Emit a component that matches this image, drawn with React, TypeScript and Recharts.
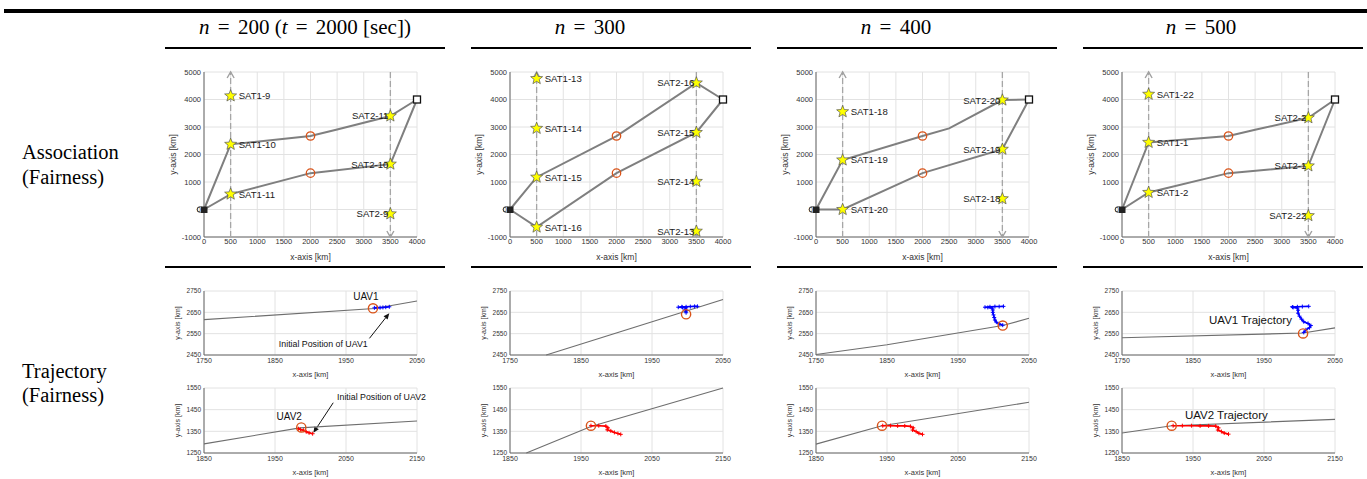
import React from 'react';
import { ScatterChart, Scatter, XAxis, YAxis, CartesianGrid, ReferenceLine } from 'recharts';

const FONT = "'Liberation Sans', Arial, Helvetica, sans-serif";
const SERIF = "'Liberation Serif', 'Times New Roman', serif";

// ---------- header / labels ----------
const nValues = [200, 300, 400, 500];
const firstTime = 2000;
const rowLabels = [['Association', '(Fairness)'], ['Trajectory', '(Fairness)']];

// ---------- ticks ----------
const assocXTicks = [0, 500, 1000, 1500, 2000, 2500, 3000, 3500, 4000];
const assocYTicks = [-1000, 0, 1000, 2000, 3000, 4000, 5000];
const traj1XTicks = [1750, 1850, 1950, 2050];
const traj1YTicks = [2450, 2550, 2650, 2750];
const traj2XTicks = [1850, 1950, 2050, 2150];
const traj2YTicks = [1250, 1350, 1450, 1550];

// ---------- association common ----------
const startPoint = [{ x: 0, y: 0 }];
const destPoint = [{ x: 4000, y: 4000 }];
const midPoints = [{ x: 2000, y: 2672 }, { x: 2000, y: 1322 }];
const dashLeft = [{ x: 500, y: -1000 }, { x: 500, y: 5000 }];
const dashRight = [{ x: 3500, y: 5000 }, { x: 3500, y: -1000 }];
const arrowUpTip = [{ x: 500, y: 5000 }];
const arrowDownTip = [{ x: 3500, y: -1000 }];

// ---------- association per column ----------
const sat1Col1 = [{ x: 500, y: 4130, name: 'SAT1-9' }, { x: 500, y: 2370, name: 'SAT1-10' }, { x: 500, y: 560, name: 'SAT1-11' }];
const sat2Col1 = [{ x: 3500, y: 3400, name: 'SAT2-11' }, { x: 3500, y: 1650, name: 'SAT2-10' }, { x: 3500, y: -160, name: 'SAT2-9' }];
const upperCol1 = [{ x: 0, y: 0 }, { x: 500, y: 2370 }, { x: 2000, y: 2672 }, { x: 2500, y: 2910 }, { x: 3500, y: 3400 }, { x: 4000, y: 4000 }];
const lowerCol1 = [{ x: 0, y: 0 }, { x: 500, y: 560 }, { x: 2000, y: 1322 }, { x: 3500, y: 1650 }, { x: 4000, y: 4000 }];

const sat1Col2 = [{ x: 500, y: 4760, name: 'SAT1-13' }, { x: 500, y: 2950, name: 'SAT1-14' }, { x: 500, y: 1175, name: 'SAT1-15' }, { x: 500, y: -640, name: 'SAT1-16' }];
const sat2Col2 = [{ x: 3500, y: 4600, name: 'SAT2-16' }, { x: 3500, y: 2800, name: 'SAT2-15' }, { x: 3500, y: 1020, name: 'SAT2-14' }, { x: 3500, y: -790, name: 'SAT2-13' }];
const upperCol2 = [{ x: 0, y: 0 }, { x: 500, y: 1175 }, { x: 2000, y: 2672 }, { x: 3500, y: 4600 }, { x: 4000, y: 4000 }];
const lowerCol2 = [{ x: 0, y: 0 }, { x: 500, y: -640 }, { x: 2000, y: 1322 }, { x: 3500, y: 2800 }, { x: 4000, y: 4000 }];

const sat1Col3 = [{ x: 500, y: 3555, name: 'SAT1-18' }, { x: 500, y: 1800, name: 'SAT1-19' }, { x: 500, y: 0, name: 'SAT1-20' }];
const sat2Col3 = [{ x: 3500, y: 3980, name: 'SAT2-20' }, { x: 3500, y: 2190, name: 'SAT2-19' }, { x: 3500, y: 390, name: 'SAT2-18' }];
const upperCol3 = [{ x: 0, y: 0 }, { x: 500, y: 1800 }, { x: 2000, y: 2672 }, { x: 2500, y: 2950 }, { x: 3500, y: 3980 }, { x: 4000, y: 4000 }];
const lowerCol3 = [{ x: 0, y: 0 }, { x: 500, y: 0 }, { x: 2000, y: 1322 }, { x: 3500, y: 2190 }, { x: 4000, y: 4000 }];

const sat1Col4 = [{ x: 500, y: 4190, name: 'SAT1-22' }, { x: 500, y: 2440, name: 'SAT1-1' }, { x: 500, y: 620, name: 'SAT1-2' }];
const sat2Col4 = [{ x: 3500, y: 3335, name: 'SAT2-2' }, { x: 3500, y: 1585, name: 'SAT2-1' }, { x: 3500, y: -225, name: 'SAT2-22' }];
const upperCol4 = [{ x: 0, y: 0 }, { x: 500, y: 2440 }, { x: 2000, y: 2672 }, { x: 2500, y: 2900 }, { x: 3500, y: 3335 }, { x: 4000, y: 4000 }];
const lowerCol4 = [{ x: 0, y: 0 }, { x: 500, y: 620 }, { x: 2000, y: 1322 }, { x: 3500, y: 1585 }, { x: 4000, y: 4000 }];

// ---------- trajectory UAV1 (top) ----------
const path1Col1 = [{ x: 1750, y: 2616 }, { x: 1990, y: 2668 }, { x: 2050, y: 2703 }];
const uav1Col1 = [{ x: 1990, y: 2671 }, { x: 1994, y: 2672 }, { x: 1998, y: 2672 }, { x: 2002, y: 2673 }, { x: 2006, y: 2674 }, { x: 2011, y: 2676 }];
const start1Col1 = [{ x: 1988, y: 2669 }];
const text1Col1 = [{ x: 1978, y: 2725, text: 'UAV1' }];
const note1Col1 = [{ x: 1918, y: 2503, text: 'Initial Position of UAV1' }];
const arrow1Col1 = [{ x: 1983, y: 2528 }, { x: 2011, y: 2646 }];

const path1Col2 = [{ x: 1801, y: 2450 }, { x: 2050, y: 2710 }];
const uav1Col2 = [{ x: 1998, y: 2648 }, { x: 1998, y: 2656 }, { x: 1997, y: 2664 }, { x: 1998, y: 2671 }, { x: 1993, y: 2673 }, { x: 1987, y: 2674 }, { x: 1992, y: 2676 }, { x: 1998, y: 2676 }, { x: 2004, y: 2677 }, { x: 2010, y: 2678 }, { x: 2014, y: 2678 }];
const start1Col2 = [{ x: 1998, y: 2641 }];

const path1Col3 = [{ x: 1750, y: 2452 }, { x: 1850, y: 2498 }, { x: 2013, y: 2588 }, { x: 2050, y: 2622 }];
const uav1Col3 = [{ x: 2013, y: 2590 }, { x: 2008, y: 2596 }, { x: 2004, y: 2604 }, { x: 2002, y: 2614 }, { x: 2001, y: 2626 }, { x: 2000, y: 2638 }, { x: 1999, y: 2650 }, { x: 1999, y: 2661 }, { x: 1998, y: 2670 }, { x: 1992, y: 2673 }, { x: 1988, y: 2674 }, { x: 1995, y: 2676 }, { x: 2002, y: 2677 }, { x: 2008, y: 2677 }, { x: 2014, y: 2678 }];
const start1Col3 = [{ x: 2013, y: 2588 }];

const path1Col4 = [{ x: 1750, y: 2531 }, { x: 2005, y: 2553 }, { x: 2050, y: 2577 }];
const uav1Col4 = [{ x: 2006, y: 2556 }, { x: 2009, y: 2568 }, { x: 2014, y: 2578 }, { x: 2016, y: 2588 }, { x: 2012, y: 2598 }, { x: 2006, y: 2606 }, { x: 2003, y: 2618 }, { x: 2000, y: 2632 }, { x: 1998, y: 2646 }, { x: 1998, y: 2660 }, { x: 1997, y: 2670 }, { x: 1991, y: 2673 }, { x: 1990, y: 2675 }, { x: 1997, y: 2676 }, { x: 2004, y: 2677 }, { x: 2013, y: 2678 }];
const start1Col4 = [{ x: 2005, y: 2551 }];
const text1Col4 = [{ x: 1931, y: 2613, text: 'UAV1 Trajectory' }];

// ---------- trajectory UAV2 (bottom) ----------
const path2Col1 = [{ x: 1850, y: 1292 }, { x: 1985, y: 1366 }, { x: 2150, y: 1398 }];
const uav2Col1 = [{ x: 1983, y: 1362 }, { x: 1986, y: 1358 }, { x: 1990, y: 1355 }, { x: 1994, y: 1348 }, { x: 1998, y: 1343 }, { x: 2003, y: 1339 }];
const start2Col1 = [{ x: 1987, y: 1368 }];
const text2Col1 = [{ x: 1970, y: 1419, text: 'UAV2' }];
const note2Col1 = [{ x: 2100, y: 1507, text: 'Initial Position of UAV2' }];
const arrow2Col1 = [{ x: 2032, y: 1482 }, { x: 2004, y: 1343 }];

const path2Col2 = [{ x: 1873, y: 1250 }, { x: 1964, y: 1372 }, { x: 2150, y: 1550 }];
const uav2Col2 = [{ x: 1964, y: 1376 }, { x: 1975, y: 1376 }, { x: 1985, y: 1374 }, { x: 1988, y: 1366 }, { x: 1987, y: 1357 }, { x: 1992, y: 1352 }, { x: 1997, y: 1345 }, { x: 2002, y: 1340 }, { x: 2006, y: 1336 }];
const start2Col2 = [{ x: 1964, y: 1376 }];

const path2Col3 = [{ x: 1850, y: 1291 }, { x: 1943, y: 1376 }, { x: 2150, y: 1484 }];
const uav2Col3 = [{ x: 1944, y: 1376 }, { x: 1955, y: 1376 }, { x: 1965, y: 1375 }, { x: 1975, y: 1375 }, { x: 1983, y: 1373 }, { x: 1987, y: 1366 }, { x: 1986, y: 1356 }, { x: 1991, y: 1349 }, { x: 1995, y: 1341 }, { x: 2000, y: 1336 }];
const start2Col3 = [{ x: 1943, y: 1376 }];

const path2Col4 = [{ x: 1850, y: 1342 }, { x: 1920, y: 1376 }, { x: 2150, y: 1405 }];
const uav2Col4 = [{ x: 1922, y: 1376 }, { x: 1935, y: 1376 }, { x: 1948, y: 1376 }, { x: 1960, y: 1375 }, { x: 1972, y: 1375 }, { x: 1982, y: 1374 }, { x: 1986, y: 1366 }, { x: 1985, y: 1356 }, { x: 1990, y: 1349 }, { x: 1994, y: 1342 }, { x: 2000, y: 1337 }];
const start2Col4 = [{ x: 1920, y: 1376 }];
const text2Col4 = [{ x: 1997, y: 1427, text: 'UAV2 Trajectory' }];

// ---------- layout ----------
const PW = 213;
const colLeft = [204, 510, 816, 1122];
const lineLeft = [165, 471, 777, 1083];
const headerCenter = [305, 590, 896, 1201];
const YW = 45;
const MT = 8;
const MR = 12;
const XH = 40;

const Empty = () => <g />;

function starPoints(cx: number, cy: number, R: number, r: number) {
  const pts: string[] = [];
  for (let i = 0; i < 10; i++) {
    const a = -Math.PI / 2 + (i * Math.PI) / 5;
    const rad = i % 2 === 0 ? R : r;
    pts.push(`${(cx + rad * Math.cos(a)).toFixed(2)},${(cy + rad * Math.sin(a)).toFixed(2)}`);
  }
  return pts.join(' ');
}

const makeStar = (side: 'left' | 'right') => (props: any) => {
  const { cx, cy, payload } = props;
  return (
    <g>
      <polygon points={starPoints(cx, cy, 6.3, 2.7)} fill="#ffff00" stroke="#555" strokeWidth={0.7} />
      <text
        x={side === 'right' ? cx + 8 : cx - 2}
        y={cy}
        dy="0.36em"
        textAnchor={side === 'right' ? 'start' : 'end'}
        fontSize={9.6}
        fontFamily={FONT}
        fill="#1a1a1a"
      >
        {payload.name}
      </text>
    </g>
  );
};
const StarRight = makeStar('right');
const StarLeft = makeStar('left');

const ArrowUp = (p: any) => (
  <polyline points={`${p.cx - 3.5},${p.cy + 6} ${p.cx},${p.cy} ${p.cx + 3.5},${p.cy + 6}`} fill="none" stroke="#a0a0a0" strokeWidth={1.4} />
);
const ArrowDown = (p: any) => (
  <polyline points={`${p.cx - 3.5},${p.cy - 6} ${p.cx},${p.cy} ${p.cx + 3.5},${p.cy - 6}`} fill="none" stroke="#a0a0a0" strokeWidth={1.4} />
);
const OrangeSmall = (p: any) => <circle cx={p.cx} cy={p.cy} r={4.2} fill="none" stroke="#D95319" strokeWidth={1.3} />;
const OrangeBig = (p: any) => <circle cx={p.cx} cy={p.cy} r={4.6} fill="none" stroke="#D95319" strokeWidth={1.4} />;
const OriginMarker = (p: any) => (
  <g>
    <circle cx={p.cx - 4} cy={p.cy} r={2.8} fill="#fff" stroke="#333" strokeWidth={0.9} />
    <rect x={p.cx - 3} y={p.cy - 3} width={6.5} height={6.5} fill="#222" />
  </g>
);
const DestMarker = (p: any) => (
  <rect x={p.cx - 3.5} y={p.cy - 3.5} width={7} height={7} fill="#fff" stroke="#111" strokeWidth={1.3} />
);
const makePlus = (color: string) => (p: any) => (
  <g stroke={color} strokeWidth={1}>
    <line x1={p.cx - 2} y1={p.cy} x2={p.cx + 2} y2={p.cy} />
    <line x1={p.cx} y1={p.cy - 2} x2={p.cx} y2={p.cy + 2} />
  </g>
);
const BluePlus = makePlus('#0000ff');
const RedPlus = makePlus('#ff0000');
const makeText = (size: number) => (p: any) => (
  <text x={p.cx} y={p.cy} dy="0.36em" textAnchor="middle" fontSize={size} fontFamily={FONT} fill="#111">
    {p.payload.text}
  </text>
);
const TextUav = makeText(10);
const TextNote = makeText(8.8);
const TextTraj = makeText(11.5);

const ArrowShape = (p: any) => {
  const { x1, y1, x2, y2 } = p;
  if ([x1, y1, x2, y2].some((v) => typeof v !== 'number' || isNaN(v))) return <g />;
  const ang = Math.atan2(y2 - y1, x2 - x1);
  const L = 6;
  const W = 2.6;
  const bx = x2 - L * Math.cos(ang);
  const by = y2 - L * Math.sin(ang);
  const px = -Math.sin(ang) * W;
  const py = Math.cos(ang) * W;
  return (
    <g>
      <line x1={x1} y1={y1} x2={bx} y2={by} stroke="#111" strokeWidth={1} />
      <polygon points={`${x2},${y2} ${bx + px},${by + py} ${bx - px},${by - py}`} fill="#111" />
    </g>
  );
};

const tickStyle = (size: number) => ({ fontSize: size, fill: '#333', fontFamily: FONT });

function AssocChart(props: { left: number; sat1: any[]; sat2: any[]; upper: any[]; lower: any[] }) {
  const ph = 165;
  const W = YW + PW + MR;
  const H = MT + ph + XH;
  return (
    <div style={{ position: 'absolute', left: props.left - YW, top: 72 - MT, width: W, height: H }}>
      <ScatterChart width={W} height={H} margin={{ top: MT, right: MR, bottom: 0, left: 0 }}>
        <CartesianGrid stroke="#e2e2e2" strokeWidth={1} />
        <XAxis
          type="number" dataKey="x" domain={[0, 4000]} ticks={assocXTicks} interval={0}
          height={XH} tickLine={false} tickSize={2} tickMargin={0}
          axisLine={{ stroke: '#666' }} tick={tickStyle(7.5)}
          label={{ value: 'x-axis [km]', position: 'center', dy: 0, fontSize: 8.5, fill: '#333', fontFamily: FONT }}
        />
        <YAxis
          type="number" dataKey="y" domain={[-1000, 5000]} ticks={assocYTicks} interval={0}
          width={YW} tickLine={false} tickSize={2} tickMargin={1}
          axisLine={{ stroke: '#666' }} tick={tickStyle(7.5)}
          label={{ value: 'y-axis [km]', angle: -90, position: 'center', dx: -8.5, fontSize: 8.5, fill: '#333', fontFamily: FONT }}
        />
        <Scatter data={dashLeft} line={{ stroke: '#a6a6a6', strokeWidth: 1.3, strokeDasharray: '6 3' }} shape={Empty} isAnimationActive={false} />
        <Scatter data={dashRight} line={{ stroke: '#a6a6a6', strokeWidth: 1.3, strokeDasharray: '6 3' }} shape={Empty} isAnimationActive={false} />
        <Scatter data={arrowUpTip} shape={ArrowUp} isAnimationActive={false} />
        <Scatter data={arrowDownTip} shape={ArrowDown} isAnimationActive={false} />
        <Scatter data={props.upper} line={{ stroke: '#7f7f7f', strokeWidth: 2 }} shape={Empty} isAnimationActive={false} />
        <Scatter data={props.lower} line={{ stroke: '#7f7f7f', strokeWidth: 2 }} shape={Empty} isAnimationActive={false} />
        <Scatter data={midPoints} shape={OrangeSmall} isAnimationActive={false} />
        <Scatter data={startPoint} shape={OriginMarker} isAnimationActive={false} />
        <Scatter data={destPoint} shape={DestMarker} isAnimationActive={false} />
        <Scatter data={props.sat1} shape={StarRight} isAnimationActive={false} />
        <Scatter data={props.sat2} shape={StarLeft} isAnimationActive={false} />
      </ScatterChart>
    </div>
  );
}

function TrajChart(props: {
  left: number; top: number; ph: number; xTicks: number[]; yTicks: number[];
  path: any[]; traj: any[]; color: string; marker: any; start: any[];
  texts?: { data: any[]; shape: any }[]; arrow?: any[];
}) {
  const W = YW + PW + MR;
  const H = MT + props.ph + XH;
  const xd = [props.xTicks[0], props.xTicks[props.xTicks.length - 1]];
  const yd = [props.yTicks[0], props.yTicks[props.yTicks.length - 1]];
  return (
    <div style={{ position: 'absolute', left: props.left - YW, top: props.top - MT, width: W, height: H }}>
      <ScatterChart width={W} height={H} margin={{ top: MT, right: MR, bottom: 0, left: 0 }}>
        <CartesianGrid stroke="#e2e2e2" strokeWidth={1} />
        <XAxis
          type="number" dataKey="x" domain={xd} ticks={props.xTicks} interval={0}
          height={XH} tickLine={false} tickSize={2} tickMargin={1}
          axisLine={{ stroke: '#666' }} tick={tickStyle(7)}
          label={{ value: 'x-axis [km]', position: 'center', dy: -1, fontSize: 7.5, fill: '#333', fontFamily: FONT }}
        />
        <YAxis
          type="number" dataKey="y" domain={yd} ticks={props.yTicks} interval={0}
          width={YW} tickLine={false} tickSize={2} tickMargin={1}
          axisLine={{ stroke: '#666' }} tick={tickStyle(6.5)}
          label={{ value: 'y-axis [km]', angle: -90, position: 'center', dx: -3.5, fontSize: 7, fill: '#333', fontFamily: FONT }}
        />
        <Scatter data={props.path} line={{ stroke: '#6e6e6e', strokeWidth: 1.1 }} shape={Empty} isAnimationActive={false} />
        <Scatter data={props.traj} line={{ stroke: props.color, strokeWidth: 1.6 }} shape={props.marker} isAnimationActive={false} />
        <Scatter data={props.start} shape={OrangeBig} isAnimationActive={false} />
        {props.arrow ? (
          <ReferenceLine segment={props.arrow as any} ifOverflow="visible" shape={ArrowShape} />
        ) : null}
        {(props.texts || []).map((t, i) => (
          <Scatter key={i} data={t.data} shape={t.shape} isAnimationActive={false} />
        ))}
      </ScatterChart>
    </div>
  );
}

const assocCols = [
  { sat1: sat1Col1, sat2: sat2Col1, upper: upperCol1, lower: lowerCol1 },
  { sat1: sat1Col2, sat2: sat2Col2, upper: upperCol2, lower: lowerCol2 },
  { sat1: sat1Col3, sat2: sat2Col3, upper: upperCol3, lower: lowerCol3 },
  { sat1: sat1Col4, sat2: sat2Col4, upper: upperCol4, lower: lowerCol4 },
];

const traj1Cols = [
  { path: path1Col1, traj: uav1Col1, start: start1Col1, texts: [{ data: text1Col1, shape: TextUav }, { data: note1Col1, shape: TextNote }], arrow: arrow1Col1 },
  { path: path1Col2, traj: uav1Col2, start: start1Col2 },
  { path: path1Col3, traj: uav1Col3, start: start1Col3 },
  { path: path1Col4, traj: uav1Col4, start: start1Col4, texts: [{ data: text1Col4, shape: TextTraj }] },
];
const traj2Cols = [
  { path: path2Col1, traj: uav2Col1, start: start2Col1, texts: [{ data: text2Col1, shape: TextUav }, { data: note2Col1, shape: TextNote }], arrow: arrow2Col1 },
  { path: path2Col2, traj: uav2Col2, start: start2Col2 },
  { path: path2Col3, traj: uav2Col3, start: start2Col3 },
  { path: path2Col4, traj: uav2Col4, start: start2Col4, texts: [{ data: text2Col4, shape: TextTraj }] },
];

const eqStyle: React.CSSProperties = { padding: '0 3px' };

export default function App() {
  return (
    <div style={{ position: 'absolute', left: 0, top: 0, width: 1367, height: 479, overflow: 'hidden', background: '#fff' }}>
      <div style={{ position: 'absolute', left: 4, top: 8.5, width: 1363, height: 4, background: '#000' }} />
      {lineLeft.map((l, i) => (
        <React.Fragment key={i}>
          <div style={{ position: 'absolute', left: l, top: 46.6, width: 280, height: 2.2, background: '#000' }} />
          <div style={{ position: 'absolute', left: l, top: 265.7, width: 280, height: 2.2, background: '#000' }} />
          <div
            style={{
              position: 'absolute', left: headerCenter[i] - 150, top: 14, width: 300, height: 26, lineHeight: '26px',
              textAlign: 'center', fontFamily: SERIF, fontSize: 21, fontWeight: 400, color: '#000', whiteSpace: 'nowrap',
            }}
          >
            <i>n</i>
            <span style={eqStyle}> = </span>
            {nValues[i]}
            {i === 0 ? (
              <>
                {' '}(<i>t</i>
                <span style={eqStyle}> = </span>
                {firstTime} [sec])
              </>
            ) : null}
          </div>
        </React.Fragment>
      ))}
      {rowLabels.map((lines, r) => (
        <div
          key={r}
          style={{
            position: 'absolute', left: 22, top: r === 0 ? 139.5 : 358.5, fontFamily: SERIF, fontSize: 20.5,
            lineHeight: r === 0 ? '25px' : '24px', color: '#000', whiteSpace: 'nowrap',
          }}
        >
          {lines[0]}
          <br />
          {lines[1]}
        </div>
      ))}
      {assocCols.map((c, i) => (
        <AssocChart key={i} left={colLeft[i]} sat1={c.sat1} sat2={c.sat2} upper={c.upper} lower={c.lower} />
      ))}
      {traj1Cols.map((c, i) => (
        <TrajChart
          key={i} left={colLeft[i]} top={291} ph={64} xTicks={traj1XTicks} yTicks={traj1YTicks}
          path={c.path} traj={c.traj} color="#0000ff" marker={BluePlus} start={c.start}
          texts={(c as any).texts} arrow={(c as any).arrow}
        />
      ))}
      {traj2Cols.map((c, i) => (
        <TrajChart
          key={i} left={colLeft[i]} top={388} ph={65} xTicks={traj2XTicks} yTicks={traj2YTicks}
          path={c.path} traj={c.traj} color="#ff0000" marker={RedPlus} start={c.start}
          texts={(c as any).texts} arrow={(c as any).arrow}
        />
      ))}
    </div>
  );
}
